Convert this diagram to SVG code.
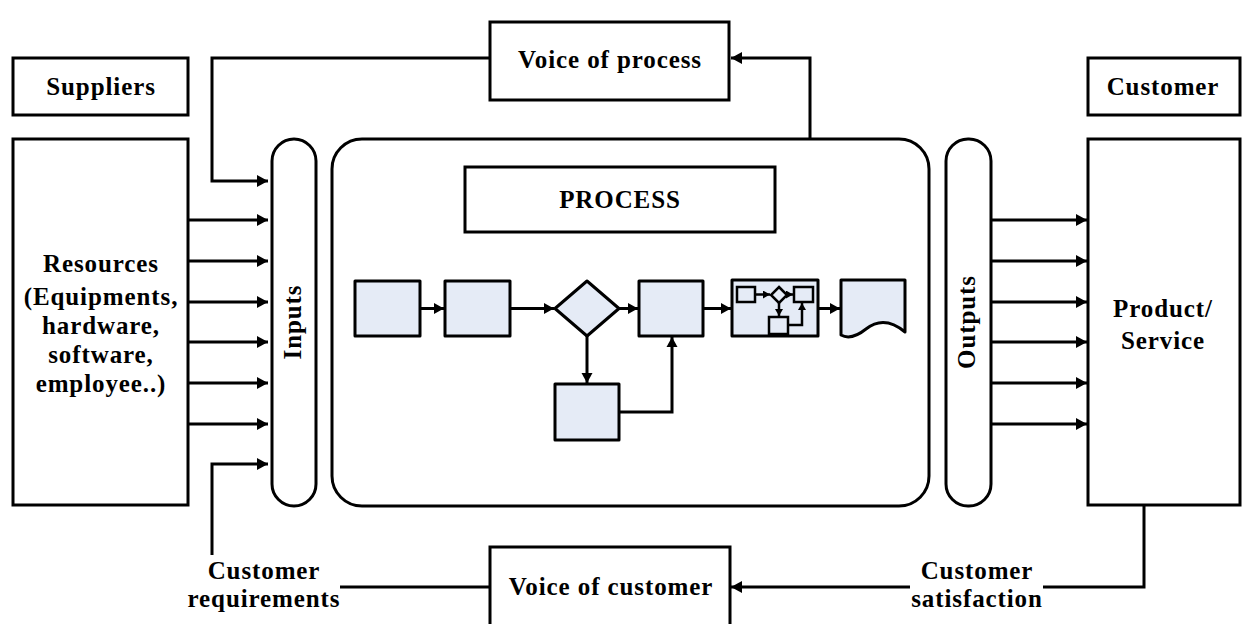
<svg xmlns="http://www.w3.org/2000/svg" width="1247" height="624" viewBox="0 0 1247 624">
<style>
.box{fill:#fff;stroke:#000;stroke-width:3}
.fl{fill:#E5EBF6;stroke:#000;stroke-width:3;stroke-linejoin:round}
.mini{fill:#E5EBF6;stroke:#000;stroke-width:2.5}
.ln{fill:none;stroke:#000;stroke-width:3}
.lns{fill:none;stroke:#000;stroke-width:2.5}
.t{font-family:"Liberation Serif","Times New Roman",serif;font-weight:bold;font-size:25px;letter-spacing:0.9px;fill:#000;text-anchor:middle}
</style>
<defs>
<marker id="ah" markerUnits="userSpaceOnUse" markerWidth="12" markerHeight="14" refX="11" refY="7" orient="auto"><path d="M0,1 L11,7 L0,13 z" fill="#000"/></marker>
<marker id="af" markerUnits="userSpaceOnUse" markerWidth="11" markerHeight="12" refX="10" refY="6" orient="auto"><path d="M0,0.5 L10,6 L0,11.5 z" fill="#000"/></marker>
<marker id="am" markerUnits="userSpaceOnUse" markerWidth="7" markerHeight="8" refX="7" refY="4" orient="auto"><path d="M0,0 L7,4 L0,8 z" fill="#000"/></marker>
</defs>

<g id="suppliers"><rect class="box" x="13" y="58" width="175" height="57"/><text class="t" x="101" y="95">Suppliers</text></g>
<g id="customer"><rect class="box" x="1088" y="58" width="152" height="57"/><text class="t" x="1163" y="95">Customer</text></g>
<g id="voice-of-process"><rect class="box" x="490" y="22" width="239" height="78"/><text class="t" x="610" y="68">Voice of process</text></g>
<g id="resources"><rect class="box" x="13" y="139" width="175" height="366"/>
<text class="t" x="101" y="272">Resources</text>
<text class="t" x="101" y="305">(Equipments,</text>
<text class="t" x="101" y="334">hardware,</text>
<text class="t" x="101" y="363">software,</text>
<text class="t" x="101" y="392">employee..)</text></g>
<g id="inputs"><rect class="box" x="272" y="139" width="44" height="367" rx="22"/><text class="t" transform="translate(301,322) rotate(-90)">Inputs</text></g>
<g id="process"><rect class="box" x="332" y="139" width="597" height="367" rx="30"/></g>
<g id="process-label"><rect class="box" x="465" y="167" width="310" height="65"/><text class="t" x="620" y="208">PROCESS</text></g>
<g id="outputs"><rect class="box" x="946" y="139" width="45" height="367" rx="22"/><text class="t" transform="translate(975,322) rotate(-90)">Outputs</text></g>
<g id="product-service"><rect class="box" x="1088" y="139" width="152" height="366"/><text class="t" x="1163" y="317">Product/</text><text class="t" x="1163" y="349">Service</text></g>
<g id="voice-of-customer"><rect class="box" x="490" y="547" width="240" height="85"/><text class="t" x="611" y="595">Voice of customer</text></g>
<g id="customer-requirements"><text class="t" x="264" y="579">Customer</text><text class="t" x="264" y="607">requirements</text></g>
<g id="customer-satisfaction"><text class="t" x="977" y="579">Customer</text><text class="t" x="977" y="607">satisfaction</text></g>

<g id="flow1"><rect class="fl" x="355" y="281" width="65" height="55"/></g>
<g id="flow2"><rect class="fl" x="445" y="281" width="65" height="55"/></g>
<g id="flow-decision"><path class="fl" d="M587,281 L619,308.5 L587,336 L555,308.5 Z"/></g>
<g id="flow4"><rect class="fl" x="639" y="281" width="64" height="55"/></g>
<g id="flow-alt"><rect class="fl" x="555" y="384" width="64" height="56"/></g>
<g id="flow-subprocess"><rect class="fl" x="732" y="280" width="86" height="56"/>
<rect class="mini" x="737" y="287" width="18" height="15"/>
<path class="mini" d="M779,287 L787,295 L779,303 L771,295 Z"/>
<rect class="mini" x="794" y="287" width="19" height="15"/>
<rect class="mini" x="769" y="317" width="19" height="17"/>
<path class="lns" d="M755,294.5 H770" marker-end="url(#am)"/>
<path class="lns" d="M787,294.5 H793" marker-end="url(#am)"/>
<path class="lns" d="M779,303 V316" marker-end="url(#am)"/>
<path class="lns" d="M788,325 H802 V303" marker-end="url(#am)"/>
</g>
<g id="flow-document"><path class="fl" d="M841,280 H905 V332 C893,322 880,318 866,329 C856,337 848,339 841,335 Z"/></g>

<g id="connectors">
<path class="ln" d="M188,220 H268" marker-end="url(#ah)"/>
<path class="ln" d="M188,261 H268" marker-end="url(#ah)"/>
<path class="ln" d="M188,302 H268" marker-end="url(#ah)"/>
<path class="ln" d="M188,342 H268" marker-end="url(#ah)"/>
<path class="ln" d="M188,383 H268" marker-end="url(#ah)"/>
<path class="ln" d="M188,424 H268" marker-end="url(#ah)"/>
<path class="ln" d="M490,58 H212 V181 H268" marker-end="url(#ah)"/>
<path class="ln" d="M212,555 V464 H268" marker-end="url(#ah)"/>
<path class="ln" d="M810,139 V58 H731" marker-end="url(#ah)"/>
<path class="ln" d="M991,220 H1087" marker-end="url(#ah)"/>
<path class="ln" d="M991,261 H1087" marker-end="url(#ah)"/>
<path class="ln" d="M991,302 H1087" marker-end="url(#ah)"/>
<path class="ln" d="M991,342 H1087" marker-end="url(#ah)"/>
<path class="ln" d="M991,383 H1087" marker-end="url(#ah)"/>
<path class="ln" d="M991,424 H1087" marker-end="url(#ah)"/>
<path class="ln" d="M1144,505 V587 H1043"/>
<path class="ln" d="M910,587 H731" marker-end="url(#ah)"/>
<path class="ln" d="M490,587 H340"/>
<path class="ln" d="M420,308.5 H444" marker-end="url(#af)"/>
<path class="ln" d="M510,308.5 H554" marker-end="url(#af)"/>
<path class="ln" d="M619,308.5 H638" marker-end="url(#af)"/>
<path class="ln" d="M703,308.5 H731" marker-end="url(#af)"/>
<path class="ln" d="M818,308.5 H840" marker-end="url(#af)"/>
<path class="ln" d="M587,336 V383" marker-end="url(#af)"/>
<path class="ln" d="M619,412 H672 V337" marker-end="url(#af)"/>
</g>
</svg>
